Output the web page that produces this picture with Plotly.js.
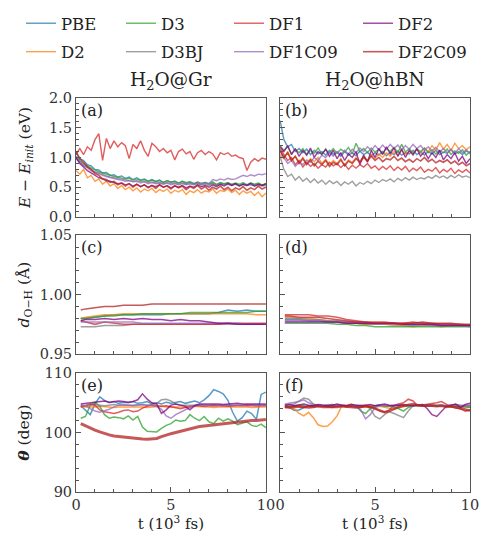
<!DOCTYPE html>
<html><head><meta charset="utf-8">
<script src="https://cdn.plot.ly/plotly-3.0.1.min.js"></script>
<style>html,body{margin:0;padding:0;background:#fff}#plot{width:479px;height:533px}</style>
</head><body><div id="plot"></div>
<script>
const series = ['PBE','D2','D3','D3BJ','DF1','DF1C09','DF2','DF2C09'];
const colors = ['#1f77b4','#ff7f0e','#2ca02c','#7f7f7f','#d62728','#9467bd','#800080','#b22222'];
const legendOf = ['legend','legend','legend2','legend2','legend3','legend3','legend4','legend4'];

// time grids (10^3 fs)
const tE = [0,0.2,0.4,0.6,0.8,1,1.2,1.4,1.6,1.8,2,2.2,2.4,2.6,2.8,3,3.2,3.4,3.6,3.8,4,4.2,4.4,4.6,4.8,5,5.2,5.4,5.6,5.8,6,6.2,6.4,6.6,6.8,7,7.2,7.4,7.6,7.8,8,8.2,8.4,8.6,8.8,9,9.2,9.4,9.6,9.8,10];
const tD = [0.25,0.5,1,1.5,2,2.5,3,3.5,4,4.5,5,5.5,6,6.5,7,7.5,8,8.5,9,9.5,10];
const tT = [0.25,0.5,0.75,1,1.25,1.5,1.75,2,2.25,2.5,2.75,3,3.25,3.5,3.75,4,4.25,4.5,4.75,5,5.25,5.5,5.75,6,6.25,6.5,6.75,7,7.25,7.5,7.75,8,8.25,8.5,8.75,9,9.25,9.5,9.75,10];

// (a) E - Einit, H2O@Gr
const E_Gr_PBE = [1.08,0.98,0.95,0.88,0.86,0.80,0.79,0.74,0.75,0.70,0.71,0.67,0.69,0.65,0.67,0.63,0.66,0.62,0.64,0.60,0.63,0.60,0.62,0.58,0.61,0.58,0.60,0.57,0.60,0.56,0.59,0.56,0.58,0.55,0.58,0.55,0.57,0.54,0.57,0.55,0.57,0.54,0.56,0.53,0.56,0.54,0.57,0.54,0.56,0.53,0.55];
const E_Gr_D2 = [0.78,0.72,0.80,0.66,0.70,0.60,0.64,0.55,0.60,0.52,0.56,0.48,0.53,0.46,0.50,0.44,0.49,0.42,0.47,0.44,0.48,0.41,0.46,0.43,0.47,0.40,0.45,0.42,0.46,0.38,0.44,0.41,0.46,0.40,0.44,0.42,0.47,0.40,0.45,0.43,0.47,0.41,0.45,0.38,0.44,0.40,0.43,0.36,0.42,0.34,0.40];
const E_Gr_D3 = [1.02,0.95,0.90,0.86,0.82,0.79,0.76,0.74,0.71,0.70,0.68,0.67,0.66,0.64,0.65,0.62,0.64,0.61,0.63,0.60,0.62,0.59,0.61,0.58,0.61,0.59,0.60,0.57,0.60,0.58,0.59,0.56,0.59,0.57,0.58,0.56,0.59,0.55,0.58,0.56,0.58,0.55,0.57,0.55,0.58,0.54,0.57,0.55,0.57,0.54,0.56];
const E_Gr_D3BJ = [1.00,0.93,0.88,0.84,0.80,0.76,0.74,0.71,0.69,0.67,0.66,0.64,0.63,0.62,0.62,0.60,0.61,0.59,0.60,0.58,0.59,0.57,0.58,0.56,0.58,0.56,0.57,0.55,0.57,0.55,0.56,0.54,0.56,0.54,0.55,0.53,0.56,0.53,0.55,0.54,0.55,0.53,0.55,0.52,0.55,0.53,0.54,0.52,0.54,0.52,0.53];
const E_Gr_DF1 = [1.05,1.15,1.05,1.18,1.12,1.30,1.40,0.95,1.32,1.15,1.28,1.18,1.25,1.20,0.98,1.22,1.15,1.28,1.12,1.02,1.24,1.18,1.10,1.15,1.08,1.12,0.96,1.10,1.14,1.06,1.10,0.97,1.08,1.12,1.05,1.10,1.06,0.96,1.08,1.05,1.08,1.02,1.04,1.00,0.98,0.78,0.92,0.98,0.94,0.99,0.97];
const E_Gr_DF1C09 = [0.98,0.92,0.86,0.83,0.78,0.75,0.72,0.70,0.68,0.66,0.65,0.63,0.62,0.60,0.61,0.59,0.60,0.57,0.59,0.56,0.58,0.56,0.57,0.55,0.57,0.54,0.56,0.54,0.56,0.54,0.56,0.55,0.57,0.55,0.57,0.56,0.63,0.61,0.64,0.62,0.65,0.63,0.64,0.67,0.70,0.68,0.71,0.69,0.72,0.71,0.73];
const E_Gr_DF2 = [1.00,0.90,0.84,0.78,0.74,0.70,0.66,0.64,0.61,0.60,0.58,0.56,0.57,0.54,0.56,0.52,0.55,0.51,0.54,0.50,0.53,0.51,0.54,0.50,0.53,0.49,0.52,0.50,0.53,0.49,0.52,0.50,0.54,0.51,0.53,0.50,0.54,0.51,0.55,0.52,0.56,0.53,0.56,0.52,0.55,0.53,0.56,0.52,0.55,0.53,0.56];
const E_Gr_DF2C09 = [1.10,0.98,0.92,0.84,0.80,0.73,0.70,0.64,0.63,0.58,0.60,0.54,0.57,0.52,0.56,0.50,0.55,0.51,0.54,0.49,0.53,0.48,0.54,0.50,0.52,0.47,0.53,0.49,0.52,0.46,0.51,0.48,0.53,0.47,0.51,0.45,0.50,0.47,0.52,0.46,0.50,0.44,0.49,0.46,0.51,0.45,0.49,0.46,0.52,0.47,0.50];

// (b) E - Einit, H2O@hBN
const E_hBN_PBE = [1.62,1.30,1.18,1.22,1.10,1.15,1.08,1.14,1.05,1.12,1.06,1.10,1.04,1.12,1.05,1.09,1.02,1.10,1.04,1.08,1.03,1.11,1.05,1.09,1.02,1.08,1.04,1.10,1.03,1.09,1.05,1.11,1.04,1.08,1.06,1.12,1.05,1.09,1.04,1.10,1.06,1.12,1.05,1.09,1.07,1.13,1.06,1.10,1.05,1.11,1.08];
const E_hBN_D2 = [1.05,0.98,1.10,0.95,1.02,0.92,1.00,0.90,0.98,0.93,1.00,0.90,0.97,0.88,0.95,0.90,0.98,0.87,0.96,0.92,1.00,0.94,1.02,0.95,1.05,0.98,1.06,1.00,1.08,1.02,1.10,1.04,1.12,1.05,1.10,1.06,1.14,1.08,1.16,1.10,1.20,1.12,1.25,1.14,1.22,1.12,1.24,1.15,1.20,1.13,1.18];
const E_hBN_D3 = [1.20,1.12,1.18,1.06,1.14,1.08,1.15,1.05,1.12,1.07,1.16,1.06,1.13,1.08,1.15,1.07,1.14,1.09,1.17,1.06,1.24,1.10,1.15,1.08,1.16,1.09,1.14,1.07,1.15,1.10,1.17,1.08,1.22,1.09,1.15,1.07,1.14,1.10,1.16,1.08,1.13,1.06,1.12,1.08,1.14,1.05,1.11,1.07,1.13,1.04,1.10];
const E_hBN_D3BJ = [1.02,0.80,0.68,0.72,0.62,0.68,0.60,0.65,0.58,0.64,0.57,0.62,0.55,0.61,0.56,0.60,0.53,0.59,0.55,0.60,0.52,0.58,0.55,0.60,0.56,0.62,0.58,0.63,0.60,0.64,0.59,0.65,0.61,0.66,0.62,0.67,0.63,0.66,0.64,0.68,0.65,0.70,0.66,0.69,0.65,0.70,0.66,0.71,0.67,0.69,0.66];
const E_hBN_DF1 = [1.15,1.05,0.95,1.00,0.88,0.95,0.84,0.92,0.85,0.90,0.82,0.88,0.84,0.92,0.86,0.90,0.83,0.89,0.80,0.87,0.82,0.88,0.84,0.90,0.82,0.86,0.79,0.85,0.80,0.86,0.78,0.84,0.79,0.85,0.76,0.82,0.78,0.84,0.75,0.80,0.77,0.83,0.74,0.80,0.76,0.82,0.73,0.79,0.75,0.80,0.74];
const E_hBN_DF1C09 = [1.10,1.00,0.90,0.95,0.85,0.92,0.88,0.96,0.92,1.00,0.95,1.04,1.00,1.08,1.02,1.10,1.05,1.12,1.06,1.14,1.08,1.16,1.10,1.18,1.12,1.20,1.13,1.21,1.14,1.22,1.15,1.21,1.13,1.20,1.14,1.22,1.15,1.20,1.12,1.18,1.10,1.17,1.09,1.15,1.08,1.14,1.07,1.15,1.08,1.13,1.06];
const E_hBN_DF2 = [1.18,1.10,1.20,1.05,1.15,1.02,1.12,1.04,1.16,1.00,1.10,1.05,1.14,1.02,1.12,0.98,1.08,0.95,1.06,1.00,1.10,0.88,1.04,0.92,1.12,1.00,1.15,1.05,1.18,1.06,1.16,1.02,1.14,1.00,1.12,1.04,1.15,1.02,1.10,0.98,1.08,1.00,1.12,0.96,1.05,0.98,1.08,0.94,1.02,0.90,0.98];
const E_hBN_DF2C09 = [1.12,1.00,1.08,0.95,1.02,0.90,0.98,0.88,0.96,0.86,0.94,0.88,0.95,0.85,0.92,0.88,0.96,0.86,0.94,0.90,0.98,0.92,1.00,0.94,1.02,0.95,1.00,0.93,0.98,0.96,1.02,0.95,0.99,0.93,0.97,0.92,0.98,0.94,1.00,0.93,0.97,0.91,0.95,0.92,0.96,0.90,0.94,0.88,0.92,0.86,0.90];

// (c) d_OH, H2O@Gr
const D_Gr_PBE = [0.980,0.980,0.981,0.982,0.983,0.983,0.983,0.983,0.983,0.983,0.984,0.984,0.984,0.984,0.984,0.985,0.987,0.986,0.987,0.986,0.986];
const D_Gr_D2 = [0.980,0.981,0.982,0.983,0.983,0.984,0.984,0.984,0.984,0.984,0.984,0.984,0.984,0.984,0.984,0.984,0.984,0.984,0.984,0.983,0.983];
const D_Gr_D3 = [0.980,0.980,0.981,0.982,0.982,0.983,0.983,0.984,0.984,0.984,0.984,0.984,0.985,0.985,0.985,0.985,0.985,0.985,0.985,0.986,0.986];
const D_Gr_D3BJ = [0.973,0.973,0.973,0.974,0.974,0.974,0.975,0.975,0.975,0.975,0.975,0.975,0.975,0.975,0.975,0.975,0.975,0.975,0.975,0.975,0.975];
const D_Gr_DF1 = [0.978,0.977,0.975,0.977,0.976,0.975,0.975,0.975,0.975,0.975,0.975,0.975,0.975,0.975,0.975,0.975,0.976,0.976,0.976,0.976,0.976];
const D_Gr_DF1C09 = [0.977,0.977,0.977,0.977,0.977,0.977,0.977,0.976,0.976,0.976,0.976,0.976,0.976,0.976,0.976,0.976,0.976,0.976,0.975,0.975,0.975];
const D_Gr_DF2 = [0.978,0.979,0.979,0.980,0.979,0.980,0.979,0.980,0.979,0.979,0.978,0.979,0.978,0.978,0.977,0.976,0.976,0.975,0.975,0.975,0.975];
const D_Gr_DF2C09 = [0.987,0.988,0.989,0.990,0.990,0.991,0.991,0.991,0.992,0.992,0.992,0.992,0.992,0.992,0.992,0.992,0.992,0.992,0.992,0.992,0.992];

// (d) d_OH, H2O@hBN
const D_hBN_PBE = [0.979,0.979,0.979,0.978,0.978,0.977,0.977,0.976,0.976,0.975,0.975,0.975,0.975,0.974,0.974,0.974,0.974,0.974,0.974,0.974,0.974];
const D_hBN_D2 = [0.981,0.981,0.980,0.980,0.979,0.978,0.977,0.976,0.976,0.975,0.975,0.975,0.974,0.974,0.973,0.974,0.974,0.973,0.974,0.974,0.974];
const D_hBN_D3 = [0.976,0.976,0.976,0.976,0.976,0.976,0.975,0.975,0.974,0.974,0.973,0.973,0.973,0.973,0.973,0.973,0.973,0.973,0.973,0.973,0.973];
const D_hBN_D3BJ = [0.980,0.980,0.980,0.979,0.979,0.978,0.978,0.977,0.977,0.976,0.976,0.976,0.976,0.975,0.975,0.975,0.975,0.975,0.975,0.974,0.974];
const D_hBN_DF1 = [0.983,0.983,0.983,0.983,0.982,0.982,0.981,0.979,0.978,0.977,0.977,0.977,0.976,0.976,0.977,0.976,0.976,0.975,0.975,0.975,0.974];
const D_hBN_DF1C09 = [0.978,0.978,0.978,0.978,0.978,0.977,0.977,0.977,0.976,0.976,0.975,0.975,0.975,0.975,0.975,0.975,0.974,0.974,0.974,0.974,0.973];
const D_hBN_DF2 = [0.977,0.977,0.977,0.977,0.977,0.977,0.977,0.976,0.976,0.976,0.976,0.976,0.976,0.975,0.975,0.975,0.975,0.974,0.974,0.974,0.974];
const D_hBN_DF2C09 = [0.982,0.982,0.981,0.981,0.981,0.980,0.979,0.978,0.977,0.977,0.976,0.976,0.976,0.976,0.976,0.977,0.976,0.976,0.976,0.975,0.975];

// (e) theta, H2O@Gr
const T_Gr_PBE = [104.5,103.8,103.0,104.8,106.0,105.4,105.0,105.2,104.9,105.1,105.0,105.2,104.9,105.0,105.2,104.8,105.0,104.8,105.1,104.9,105.0,105.2,104.9,105.1,105.3,105.0,105.5,106.2,107.2,106.9,106.5,105.4,103.4,101.9,102.5,103.6,103.2,102.2,106.4,106.8];
const T_Gr_D2 = [104.3,104.3,104.2,104.3,104.4,104.3,104.3,104.2,104.3,104.3,104.4,104.3,104.3,104.3,104.2,104.3,104.3,104.4,104.3,104.3,104.3,104.2,104.3,104.3,104.4,104.3,104.3,104.3,104.2,104.3,104.3,104.3,104.4,104.3,104.3,104.3,104.2,104.3,104.3,104.3];
const T_Gr_D3 = [102.4,102.7,104.6,105.1,104.4,103.0,102.4,102.6,102.5,102.3,102.8,102.1,102.7,100.9,100.2,100.1,100.1,100.7,101.2,101.5,102.1,101.9,102.0,103.0,102.4,102.0,102.7,101.8,101.5,102.4,101.9,102.3,101.9,101.3,101.5,101.8,101.2,101.0,101.4,100.8];
const T_Gr_D3BJ = [104.6,104.5,104.6,104.7,104.6,104.5,104.6,104.7,104.6,104.6,104.5,104.6,104.7,104.6,104.6,104.7,104.9,105.5,105.6,105.3,104.8,104.6,104.6,104.5,104.6,104.7,104.6,104.6,104.5,104.6,104.6,104.7,104.6,104.6,104.5,104.6,104.6,104.7,104.6,104.6];
const T_Gr_DF1 = [104.3,104.5,104.8,104.6,103.8,103.5,103.3,103.2,103.4,103.7,103.8,103.5,103.6,104.1,104.4,104.6,104.5,104.4,104.5,104.3,104.1,104.0,104.2,104.4,104.5,104.5,104.4,104.5,104.5,104.6,104.5,104.4,104.5,104.5,104.6,104.5,104.5,104.4,104.5,104.5];
const T_Gr_DF1C09 = [104.6,104.5,104.0,103.6,103.4,103.6,103.9,104.3,104.6,104.7,104.6,104.5,104.6,104.7,104.6,104.5,104.4,103.9,102.8,102.4,103.0,103.4,103.8,104.3,104.6,104.6,104.5,104.6,104.7,104.6,104.5,104.6,104.6,104.5,104.6,104.7,104.6,104.5,104.6,104.6];
const T_Gr_DF2 = [104.8,104.9,105.0,105.1,105.2,105.3,105.1,105.2,105.3,105.2,105.1,105.2,105.5,106.5,105.6,105.0,104.8,103.2,103.8,104.6,104.8,104.6,104.4,103.8,104.5,104.8,104.8,104.9,104.8,104.8,104.7,104.8,104.8,104.9,104.8,104.8,104.7,104.8,104.8,104.8];
const T_Gr_DF2C09 = [101.5,101.1,100.7,100.4,100.1,99.8,99.6,99.4,99.3,99.2,99.1,99.0,98.95,98.9,98.85,98.9,99.0,99.3,99.6,99.8,100.0,100.2,100.5,100.7,100.9,101.0,101.1,101.2,101.3,101.4,101.4,101.5,101.6,101.7,101.8,101.9,102.0,102.0,102.1,102.2];

// (f) theta, H2O@hBN
const T_hBN_PBE = [104.5,104.2,103.7,103.8,104.2,104.5,104.6,104.4,104.5,104.6,104.5,104.4,104.6,104.5,104.4,104.5,104.6,104.5,104.4,104.5,104.6,104.5,104.4,104.5,104.6,104.5,104.4,104.5,104.6,104.5,104.4,104.5,104.5,104.6,104.4,104.5,104.4,104.3,104.4,104.3];
const T_hBN_D2 = [104.3,104.2,104.0,103.2,102.8,103.4,102.5,101.3,101.0,101.1,101.8,102.8,104.5,104.6,104.8,104.5,104.4,104.6,104.5,104.3,104.4,104.2,104.0,103.9,104.2,104.4,104.5,104.6,104.5,104.4,104.6,104.5,104.4,104.6,104.5,104.4,104.6,104.5,104.4,104.5];
const T_hBN_D3 = [104.5,104.4,104.5,104.6,104.5,104.4,104.5,104.6,104.5,104.4,104.5,104.6,104.5,104.4,104.5,104.5,103.6,103.2,104.0,104.5,104.6,104.4,104.5,104.3,104.0,103.6,104.2,104.5,104.6,104.5,104.4,104.5,104.6,104.5,104.4,104.3,104.4,104.3,104.2,104.2];
const T_hBN_D3BJ = [104.6,104.7,104.8,105.3,105.8,105.6,104.8,104.6,104.5,104.6,104.7,104.5,104.6,104.5,104.6,104.5,104.4,104.5,104.0,102.7,102.3,103.0,103.5,103.2,102.8,102.5,103.6,104.5,104.6,104.5,104.6,104.7,104.5,104.6,104.5,104.6,104.7,104.6,104.5,104.6];
const T_hBN_DF1 = [104.2,104.3,104.4,104.3,104.2,104.4,104.3,104.5,104.4,104.3,104.2,104.4,104.5,104.3,104.4,104.3,104.2,104.4,104.3,104.1,103.6,103.4,103.8,104.6,104.8,105.0,105.6,105.3,104.5,104.6,104.7,104.8,105.0,105.2,104.8,104.3,104.1,104.0,103.6,103.8];
const T_hBN_DF1C09 = [104.8,104.9,105.0,105.2,105.5,105.0,104.7,104.6,104.5,104.6,104.7,104.5,104.6,104.5,104.4,104.3,103.8,102.3,103.0,104.2,104.5,104.6,104.5,104.6,104.7,104.5,104.6,104.5,104.6,104.7,104.5,104.6,104.5,104.6,104.5,104.6,104.7,104.5,104.6,104.5];
const T_hBN_DF2 = [104.6,104.7,104.5,104.6,104.8,104.6,104.5,104.7,104.6,104.5,104.6,104.8,104.6,104.5,104.7,104.6,104.5,104.6,104.7,104.5,104.6,104.8,104.6,104.5,104.6,104.7,104.6,104.5,104.6,104.7,104.0,103.0,102.7,103.5,104.4,104.6,104.8,104.2,104.7,104.9];
const T_hBN_DF2C09 = [104.3,104.2,104.3,104.4,104.3,104.2,104.3,104.4,104.3,104.3,104.2,104.3,104.4,104.3,104.3,104.2,104.3,104.4,104.3,104.0,103.7,103.4,103.6,104.0,104.3,104.5,104.7,104.8,104.6,104.5,104.6,104.5,104.4,104.5,104.3,104.4,104.2,104.0,103.8,103.7];

const panels = [
  {x:'x',  y:'y',  t:tE, data:[E_Gr_PBE,E_Gr_D2,E_Gr_D3,E_Gr_D3BJ,E_Gr_DF1,E_Gr_DF1C09,E_Gr_DF2,E_Gr_DF2C09], legend:true, w:1.4, wLast:1.6},
  {x:'x2', y:'y2', t:tE, data:[E_hBN_PBE,E_hBN_D2,E_hBN_D3,E_hBN_D3BJ,E_hBN_DF1,E_hBN_DF1C09,E_hBN_DF2,E_hBN_DF2C09], w:1.4, wLast:1.6},
  {x:'x3', y:'y3', t:tD, data:[D_Gr_PBE,D_Gr_D2,D_Gr_D3,D_Gr_D3BJ,D_Gr_DF1,D_Gr_DF1C09,D_Gr_DF2,D_Gr_DF2C09], w:1.5, wLast:1.5},
  {x:'x4', y:'y4', t:tD, data:[D_hBN_PBE,D_hBN_D2,D_hBN_D3,D_hBN_D3BJ,D_hBN_DF1,D_hBN_DF1C09,D_hBN_DF2,D_hBN_DF2C09], w:1.5, wLast:1.5},
  {x:'x5', y:'y5', t:tT, data:[T_Gr_PBE,T_Gr_D2,T_Gr_D3,T_Gr_D3BJ,T_Gr_DF1,T_Gr_DF1C09,T_Gr_DF2,T_Gr_DF2C09], w:1.5, wLast:3},
  {x:'x6', y:'y6', t:tT, data:[T_hBN_PBE,T_hBN_D2,T_hBN_D3,T_hBN_D3BJ,T_hBN_DF1,T_hBN_DF1C09,T_hBN_DF2,T_hBN_DF2C09], w:1.5, wLast:2.5}
];

const traces = [];
panels.forEach(p => {
  series.forEach((name, i) => {
    traces.push({
      type:'scatter', mode:'lines', x:p.t, y:p.data[i], xaxis:p.x, yaxis:p.y,
      name:name, legendgroup:name, showlegend:!!p.legend, legend:legendOf[i],
      line:{color:colors[i], width:(i===7? p.wLast : p.w)}, opacity:0.75, hoverinfo:'skip'
    });
  });
});

const F = 'DejaVu Serif';
const AX = '#555';
function ax(extra){
  return Object.assign({showline:true, mirror:true, linecolor:AX, linewidth:1, ticks:'inside', ticklen:5, tickwidth:1,
    tickcolor:AX, showgrid:false, zeroline:false, automargin:false, tickfont:{family:F, size:14.5, color:'#333'}}, extra);
}
const xd1 = [0, 0.482], xd2 = [0.518, 1];
const ydA = [0.698, 1], ydC = [0.350, 0.652], ydE = [0, 0.302];
const xbase = {range:[0,10], tick0:0, dtick:5, ticklabeloverflow:'allow', minor:{dtick:1, ticks:'inside', ticklen:3, tickcolor:AX}};
const xtitle = {text:'t (10<sup>3</sup> fs)', font:{family:F, size:15, color:'#222'}, standoff:4};

// legend positions given in plot-area (paper) fractions; plot area spans px 76..470 horizontally, 98..492 vertically
function legendAt(px){
  return {x:(px-76)/394, y:(492-6)/394, xref:'paper', yref:'paper', xanchor:'left', yanchor:'top',
    font:{family:F, size:16.5, color:'#222'}, bgcolor:'rgba(0,0,0,0)', traceorder:'grouped', tracegroupgap:4, itemwidth:30};
}

const layout = {
  width:479, height:533, margin:{l:76, r:9, t:98, b:41, autoexpand:false},
  paper_bgcolor:'#fff', plot_bgcolor:'#fff', showlegend:true,
  font:{family:F, color:'#222'},
  legend:legendAt(21), legend2:legendAt(121), legend3:legendAt(229), legend4:legendAt(358),
  xaxis: ax(Object.assign({domain:xd1, anchor:'y', showticklabels:false}, xbase)),
  xaxis2:ax(Object.assign({domain:xd2, anchor:'y2', showticklabels:false}, xbase)),
  xaxis3:ax(Object.assign({domain:xd1, anchor:'y3', showticklabels:false}, xbase)),
  xaxis4:ax(Object.assign({domain:xd2, anchor:'y4', showticklabels:false}, xbase)),
  xaxis5:ax(Object.assign({domain:xd1, anchor:'y5', title:xtitle}, xbase)),
  xaxis6:ax(Object.assign({domain:xd2, anchor:'y6', title:xtitle}, xbase)),
  yaxis: ax({domain:ydA, anchor:'x', range:[0,2], dtick:0.5, tick0:0, tickformat:'.1f', minor:{dtick:0.1, ticks:'inside', ticklen:3, tickcolor:AX},
    title:{text:'<i>E</i> − <i>E</i><sub><i>init</i></sub> (eV)', font:{family:F, size:15.5, color:'#222'}, standoff:14}}),
  yaxis2:ax({domain:ydA, anchor:'x2', range:[0,2], dtick:0.5, tick0:0, showticklabels:false, minor:{dtick:0.1, ticks:'inside', ticklen:3, tickcolor:AX}}),
  yaxis3:ax({domain:ydC, anchor:'x3', range:[0.95,1.05], dtick:0.05, tick0:0.95, tickformat:'.2f', minor:{dtick:0.01, ticks:'inside', ticklen:3, tickcolor:AX},
    title:{text:'<i>d</i><sub>O−H</sub> (Å)', font:{family:F, size:15.5, color:'#222'}, standoff:6}}),
  yaxis4:ax({domain:ydC, anchor:'x4', range:[0.95,1.05], dtick:0.05, tick0:0.95, showticklabels:false, minor:{dtick:0.01, ticks:'inside', ticklen:3, tickcolor:AX}}),
  yaxis5:ax({domain:ydE, anchor:'x5', range:[90,110], dtick:10, tick0:90, minor:{dtick:2, ticks:'inside', ticklen:3, tickcolor:AX},
    title:{text:'<b><i>θ</i></b> (deg)', font:{family:F, size:15.5, color:'#222'}, standoff:10}}),
  yaxis6:ax({domain:ydE, anchor:'x6', range:[90,110], dtick:10, tick0:90, showticklabels:false, minor:{dtick:2, ticks:'inside', ticklen:3, tickcolor:AX}}),
  annotations: [
    {text:'H<sub>2</sub>O@Gr', xref:'x domain', yref:'y domain', x:0.5, y:1, yanchor:'bottom', yshift:3, showarrow:false, font:{family:F, size:18.5, color:'#222'}},
    {text:'H<sub>2</sub>O@hBN', xref:'x2 domain', yref:'y2 domain', x:0.5, y:1, yanchor:'bottom', yshift:3, showarrow:false, font:{family:F, size:18.5, color:'#222'}},
    {text:'(a)', xref:'x domain', yref:'y domain', x:0.015, y:1, xanchor:'left', yanchor:'top', yshift:-1, showarrow:false, font:{family:F, size:16, color:'#222'}},
    {text:'(b)', xref:'x2 domain', yref:'y2 domain', x:0.015, y:1, xanchor:'left', yanchor:'top', yshift:-1, showarrow:false, font:{family:F, size:16, color:'#222'}},
    {text:'(c)', xref:'x3 domain', yref:'y3 domain', x:0.015, y:1, xanchor:'left', yanchor:'top', yshift:-1, showarrow:false, font:{family:F, size:16, color:'#222'}},
    {text:'(d)', xref:'x4 domain', yref:'y4 domain', x:0.015, y:1, xanchor:'left', yanchor:'top', yshift:-1, showarrow:false, font:{family:F, size:16, color:'#222'}},
    {text:'(e)', xref:'x5 domain', yref:'y5 domain', x:0.015, y:1, xanchor:'left', yanchor:'top', yshift:-1, showarrow:false, font:{family:F, size:16, color:'#222'}},
    {text:'(f)', xref:'x6 domain', yref:'y6 domain', x:0.015, y:1, xanchor:'left', yanchor:'top', yshift:-1, showarrow:false, font:{family:F, size:16, color:'#222'}}
  ]
};

Plotly.newPlot('plot', traces, layout, {displayModeBar:false, staticPlot:true});
</script>
</body></html>
